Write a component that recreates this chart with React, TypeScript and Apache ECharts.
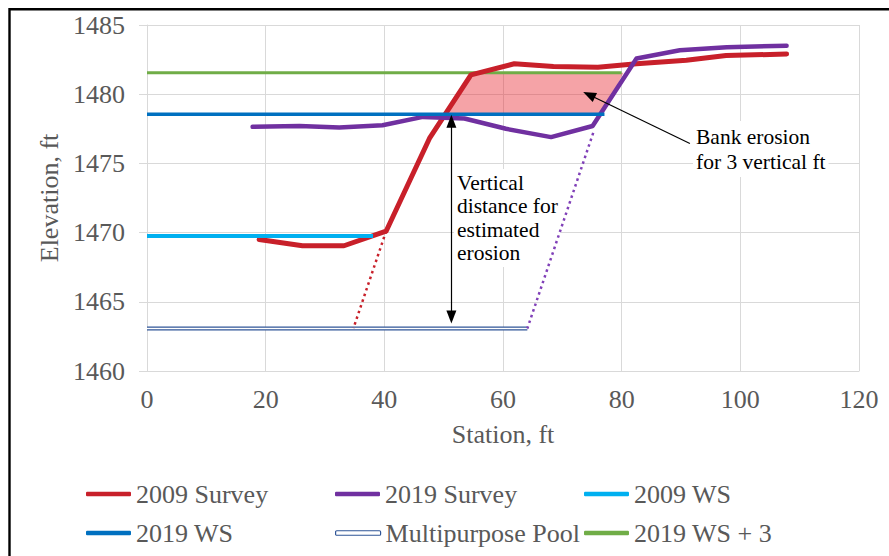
import React, { useEffect, useRef } from 'react';
import * as echarts from 'echarts';

// ---- data ----
const survey2009Station = [18.9, 26.2, 33.2, 40.3, 47.6, 54.6, 61.9, 68.5, 76.0, 82.5, 90.9, 97.6, 107.8];
const survey2009Elev = [1469.5, 1469.05, 1469.05, 1470.1, 1476.8, 1481.4, 1482.2, 1482.0, 1481.95, 1482.2, 1482.45, 1482.8, 1482.9];

const survey2019Station = [17.8, 25.7, 32.4, 39.7, 46.5, 53.5, 60.5, 68.1, 75.1, 82.5, 89.8, 97.7, 107.8];
const survey2019Elev = [1477.64, 1477.7, 1477.6, 1477.76, 1478.36, 1478.24, 1477.5, 1476.9, 1477.7, 1482.58, 1483.18, 1483.4, 1483.5];

const ws2009 = [[0, 1469.75], [38.1, 1469.75]];
const ws2019 = [[0, 1478.55], [77.1, 1478.55]];
const ws2019Plus3 = [[0, 1481.55], [80.0, 1481.55]];
const multipurposePool = [[0, 1463.07], [64.1, 1463.07]];

const survey2009Extension = [[40.3, 1470.1], [34.8, 1463.1]];
const survey2019Extension = [[75.2, 1477.2], [64.1, 1463.07]];

const erosionPolygon = [[50.3, 1478.55], [55.0, 1481.55], [80.3, 1481.55], [76.8, 1478.55]];

const verticalArrow = [[51.3, 1478.05], [51.3, 1463.9]];
const bankArrow = [[91.5, 1476.44], [74.5, 1479.96]];

const legendNames = ['2009 Survey', '2019 Survey', '2009 WS', '2019 WS', 'Multipurpose Pool', '2019 WS + 3'];

const FONT = "'Liberation Serif', 'Times New Roman', serif";
const GREY = '#595959';
const GRID = '#d9d9d9';

const RED = '#C8202A';
const PURPLE = '#7030A0';
const LIGHTBLUE = '#00B0F0';
const BLUE = '#0070C0';
const GREEN = '#70AD47';
const POOL = '#2F5597';

const zip = (xs: number[], ys: number[]) => xs.map((x, i) => [x, ys[i]]);

export default function App() {
  const ref = useRef<HTMLDivElement>(null);

  useEffect(() => {
    if (!ref.current) return;
    const chart = echarts.init(ref.current, undefined, { renderer: 'svg' });

    const legendPos = [
      [86, 481], [335, 481], [584, 481],
      [86, 520], [335, 520], [584, 520],
    ];

    const legends = legendNames.map((n, i) => ({
      data: [
        n === 'Multipurpose Pool'
          ? { name: n, itemStyle: { color: '#ffffff', borderColor: POOL, borderWidth: 1.2 } }
          : { name: n },
      ],
      left: legendPos[i][0],
      top: legendPos[i][1],
      padding: 0,
      icon: 'roundRect',
      itemWidth: 45,
      itemHeight: 4.5,
      selectedMode: false,
      textStyle: { fontFamily: FONT, fontSize: 26, color: GREY },
    }));

    const lineBase = {
      type: 'line' as const,
      symbol: 'none',
      showSymbol: false,
      silent: true,
    };

    chart.setOption({
      animation: false,
      backgroundColor: '#ffffff',
      grid: { left: 147, right: 30, top: 25, bottom: 185, containLabel: false },
      xAxis: {
        type: 'value',
        min: 0,
        max: 120,
        interval: 20,
        name: 'Station, ft',
        nameLocation: 'middle',
        nameGap: 50,
        nameTextStyle: { fontFamily: FONT, fontSize: 26, color: GREY },
        axisLine: { show: true, lineStyle: { color: GRID, width: 1 } },
        axisTick: { show: false },
        axisLabel: { fontFamily: FONT, fontSize: 26, color: GREY, margin: 15, formatter: (v: number) => String(v) },
        splitLine: { show: true, lineStyle: { color: GRID, width: 1 } },
      },
      yAxis: {
        type: 'value',
        min: 1460,
        max: 1485,
        interval: 5,
        name: 'Elevation, ft',
        nameLocation: 'middle',
        nameGap: 84,
        nameTextStyle: { fontFamily: FONT, fontSize: 26, color: GREY },
        axisLine: { show: true, lineStyle: { color: GRID, width: 1 } },
        axisTick: { show: true, length: 8, lineStyle: { color: GRID } },
        axisLabel: { fontFamily: FONT, fontSize: 26, color: GREY, margin: 22, formatter: (v: number) => String(v) },
        splitLine: { show: true, lineStyle: { color: GRID, width: 1 } },
      },
      legend: legends,
      series: [
        {
          ...lineBase,
          name: '2019 WS + 3',
          color: GREEN,
          data: ws2019Plus3,
          lineStyle: { color: GREEN, width: 3 },
        },
        {
          type: 'custom',
          name: 'erosion',
          silent: true,
          data: erosionPolygon,
          encode: { x: 0, y: 1 },
          renderItem: (params: any, api: any) => {
            if (params.dataIndex !== 0) return null;
            const pts = erosionPolygon.map((p) => api.coord(p));
            return {
              type: 'polygon',
              shape: { points: pts },
              style: { fill: 'rgba(230,35,45,0.42)', stroke: 'none' },
            };
          },
        },
        {
          ...lineBase,
          name: 'Multipurpose Pool',
          color: POOL,
          data: multipurposePool,
          lineStyle: { color: POOL, width: 4 },
        },
        {
          ...lineBase,
          name: 'poolInner',
          color: '#ffffff',
          data: multipurposePool,
          lineStyle: { color: '#ffffff', width: 1.3 },
        },
        {
          ...lineBase,
          name: 'ext2009',
          color: RED,
          data: survey2009Extension,
          lineStyle: { color: RED, width: 2.5, type: [2.5, 3.5] },
        },
        {
          ...lineBase,
          name: 'ext2019',
          color: '#8040B8',
          data: survey2019Extension,
          lineStyle: { color: '#8040B8', width: 2.5, type: [2.5, 3.5] },
        },
        {
          ...lineBase,
          name: '2009 Survey',
          color: RED,
          data: zip(survey2009Station, survey2009Elev),
          lineStyle: { color: RED, width: 5, cap: 'round', join: 'round' },
        },
        {
          ...lineBase,
          name: '2019 Survey',
          color: PURPLE,
          data: zip(survey2019Station, survey2019Elev),
          lineStyle: { color: PURPLE, width: 4.5, cap: 'round', join: 'round' },
        },
        {
          ...lineBase,
          name: '2009 WS',
          color: LIGHTBLUE,
          data: ws2009,
          lineStyle: { color: LIGHTBLUE, width: 4 },
        },
        {
          ...lineBase,
          name: '2019 WS',
          color: BLUE,
          data: ws2019,
          lineStyle: { color: BLUE, width: 3.5 },
        },
        {
          ...lineBase,
          name: 'arrows',
          data: [],
          markLine: {
            silent: true,
            animation: false,
            symbol: ['triangle', 'triangle'],
            symbolSize: [10, 13],
            label: { show: false },
            lineStyle: { color: '#000000', width: 1.2, type: 'solid' },
            data: [
              [
                { coord: verticalArrow[0], symbol: 'triangle' },
                { coord: verticalArrow[1], symbol: 'triangle' },
              ],
              [
                { coord: bankArrow[0], symbol: 'none' },
                { coord: bankArrow[1], symbol: 'triangle' },
              ],
            ],
          },
        },
      ],
      graphic: [
        {
          type: 'text',
          x: 454,
          y: 169,
          z: 1,
          silent: true,
          style: {
            text: 'Vertical\ndistance for\nestimated\nerosion',
            fontFamily: FONT,
            fontSize: 21.5,
            lineHeight: 23.5,
            fill: '#000000',
            backgroundColor: '#ffffff',
            padding: [2, 3, 2, 3],
          },
        },
        {
          type: 'text',
          x: 693,
          y: 121,
          z: 1,
          silent: true,
          style: {
            text: 'Bank erosion\nfor 3 vertical ft',
            fontFamily: FONT,
            fontSize: 21.5,
            lineHeight: 25,
            fill: '#000000',
            backgroundColor: '#ffffff',
            padding: [3, 3, 3, 3],
          },
        },
        {
          type: 'rect',
          silent: true,
          z: 100,
          shape: { x: 9.5, y: 9.3, width: 1000, height: 1000 },
          style: { fill: 'none', stroke: '#000000', lineWidth: 2.4 },
        },
      ],
    });

    return () => chart.dispose();
  }, []);

  return (
    <div
      ref={ref}
      style={{ position: 'absolute', left: 0, top: 0, width: 889, height: 556 }}
    />
  );
}
